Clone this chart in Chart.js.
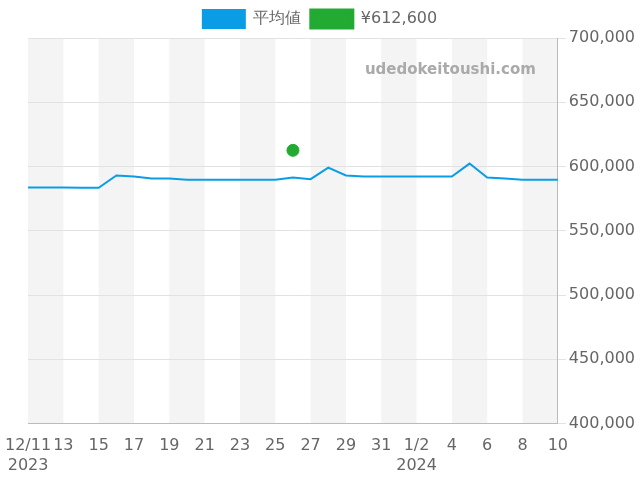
<!DOCTYPE html>
<html><head><meta charset="utf-8">
<script src="https://cdn.jsdelivr.net/npm/chart.js@4/dist/chart.umd.min.js"></script>
<style>body{margin:0}#w{width:640px;height:480px}</style></head>
<body><div id="w"><canvas id="c"></canvas></div>
<script>
const dayLabels=[["12/11","2023"],"12","13","14","15","16","17","18","19","20","21","22","23","24","25","26","27","28","29","30","31","1/1",["1/2","2024"],"1/3","4","5","6","7","8","9","10"];
const avgValues=[583600,583600,583600,583400,583400,593000,592200,590600,590600,589800,589800,589800,589800,589800,589800,591400,590200,599200,593000,592200,592200,592200,592200,592200,592200,602300,591400,590600,589800,589800,589800];
const pointValues=dayLabels.map((_,i)=>i===15?612600:null);
const yTicks=[400000,450000,500000,550000,600000,650000,700000];
const bands={id:'bands',beforeDraw(ch){const{ctx,chartArea:a,scales:{x}}=ch;ctx.save();ctx.fillStyle='#f4f4f4';for(let i=0;i<30;i+=4){const l=x.getPixelForValue(i),r=x.getPixelForValue(i+2);ctx.fillRect(l,a.top,r-l,a.bottom-a.top);}ctx.restore();}};
const wm={id:'wm',afterDraw(ch){const c=ch.ctx;c.save();c.font='bold 15px "DejaVu Sans"';c.fillStyle='#aaa';c.textAlign='right';c.fillText('udedokeitoushi.com',ch.chartArea.right-22,70);c.restore();}};
new Chart(document.getElementById('c'),{type:'line',data:{labels:dayLabels,datasets:[
{label:'平均値',data:avgValues,borderColor:'#0a9de6',backgroundColor:'#0a9de6',borderWidth:2,pointRadius:0,tension:0},
{label:'¥612,600',data:pointValues,borderColor:'#22aa33',backgroundColor:'#22aa33',pointRadius:6,showLine:false}]},
options:{responsive:true,maintainAspectRatio:false,animation:false,
layout:{padding:{left:2,right:2,bottom:0}},
plugins:{legend:{labels:{font:{size:16,family:'DejaVu Sans'},color:'#666',boxWidth:42,boxHeight:18}},tooltip:{enabled:false}},
scales:{x:{offset:false,grid:{display:false},border:{color:'#bbb'},ticks:{autoSkip:false,maxRotation:0,padding:5,font:{size:16,family:'DejaVu Sans'},color:'#666',callback:(v,i)=>i%2===0?dayLabels[i]:''}},
y:{position:'right',min:400000,max:700000,afterBuildTicks:s=>{s.ticks=yTicks.map(v=>({value:v}))},grid:{color:'#e2e2e2'},border:{color:'#bbb'},ticks:{padding:3,font:{size:16,family:'DejaVu Sans'},color:'#666',callback:v=>v.toLocaleString('en-US')}}}},
plugins:[bands,wm]});
</script></body></html>
